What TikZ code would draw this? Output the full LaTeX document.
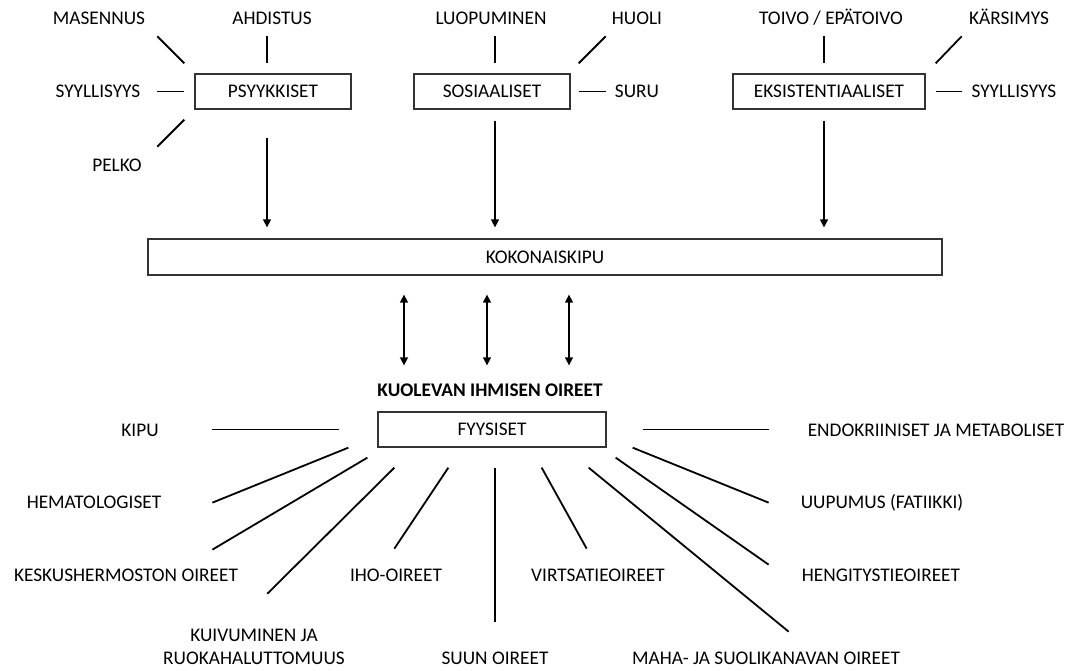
\documentclass[tikz,border=0pt]{standalone}
\usepackage{fontspec}
\setmainfont{Carlito}
\usepackage{tikz}
\usetikzlibrary{arrows.meta, positioning, calc}

\begin{document}
\begin{tikzpicture}[x=1pt, y=-1pt,
                box/.style={draw=black!80, line width=1.3pt, rectangle, minimum height=35pt, inner sep=0pt, font=\fontsize{19.3}{23}\selectfont, text height=12pt, text depth=0pt},
                varlabel/.style={inner sep=0pt, font=\fontsize{19.3}{23}\selectfont, text height=12pt, text depth=0pt},
                edge/.style={line width=1.8pt},
                pil/.style={line width=1.5pt, -{Triangle[length=8pt, width=8pt]}},
                dpil/.style={line width=1.5pt, {Triangle[length=8pt, width=8pt]}-{Triangle[length=8pt, width=8pt]}}
            ]
            \useasboundingbox (0,0) rectangle (1073,670);

            % Knoten oben
            \node[box, minimum width=156pt] (psy) at (273,91.5) {PSYYKKISET};
            \node[box, minimum width=156pt] (sos) at (492,91.5) {SOSIAALISET};
            \node[box, minimum width=192pt] (eks) at (829,91.5) {EKSISTENTIAALISET};
            \node[box, minimum width=794pt, minimum height=36pt] (koko) at (545,257) {KOKONAISKIPU};

            \node[varlabel] (masennus) at (99,18) {MASENNUS};
            \node[varlabel] (ahdistus) at (272,18) {AHDISTUS};
            \node[varlabel] (syyl1) at (98,91.5) {SYYLLISYYS};
            \node[varlabel] (pelko) at (117,165) {PELKO};
            \node[varlabel] (luopum) at (491,18) {LUOPUMINEN};
            \node[varlabel] (huoli) at (637,18) {HUOLI};
            \node[varlabel] (suru) at (637,91.5) {SURU};
            \node[varlabel] (toivo) at (831,18) {TOIVO / EPÄTOIVO};
            \node[varlabel] (karsimys) at (1009,18) {KÄRSIMYS};
            \node[varlabel] (syyl2) at (1014,91.5) {SYYLLISYYS};

            % Knoten unten
            \node[varlabel, font=\fontsize{19.3}{23}\selectfont\bfseries] (otsikko) at (490,390) {KUOLEVAN IHMISEN OIREET};
            \node[box, minimum width=228pt] (fyys) at (492,429.5) {FYYSISET};

            \node[varlabel] (kipu) at (140,430) {KIPU};
            \node[varlabel] (hema) at (94,502) {HEMATOLOGISET};
            \node[varlabel] (kesk) at (126,575) {KESKUSHERMOSTON OIREET};
            \node[inner sep=0pt, font=\fontsize{19.3}{23}\selectfont, align=center, anchor=north] (kuiv) at (254,629) {KUIVUMINEN JA\\RUOKAHALUTTOMUUS};
            \node[varlabel] (iho) at (396,575) {IHO-OIREET};
            \node[varlabel] (suun) at (495,658) {SUUN OIREET};
            \node[varlabel] (virtsa) at (598,575) {VIRTSATIEOIREET};
            \node[varlabel] (maha) at (766,658) {MAHA- JA SUOLIKANAVAN OIREET};
            \node[varlabel] (heng) at (881,575) {HENGITYSTIEOIREET};
            \node[varlabel] (uupumus) at (882,502) {UUPUMUS (FATIIKKI)};
            \node[varlabel] (endo) at (936,430) {ENDOKRIINISET JA METABOLISET};

            % Kanten oben
            \draw[edge] ([shift={(-37,-37)}]psy.north west) -- ([shift={(-10,-10)}]psy.north west);
            \draw[edge] ([shift={(-6,-37)}]psy.north) -- ([shift={(-6,-10)}]psy.north);
            \draw[edge] ([shift={(-37,0)}]psy.west) -- ([shift={(-10,0)}]psy.west);
            \draw[edge] ([shift={(-10,10)}]psy.south west) -- ([shift={(-37,37)}]psy.south west);

            \draw[edge] ([shift={(3,-37)}]sos.north) -- ([shift={(3,-10)}]sos.north);
            \draw[edge] ([shift={(35,-37)}]sos.north east) -- ([shift={(8,-10)}]sos.north east);
            \draw[edge] ([shift={(8,0)}]sos.east) -- ([shift={(35,0)}]sos.east);

            \draw[edge] ([shift={(-5,-37)}]eks.north) -- ([shift={(-5,-10)}]eks.north);
            \draw[edge] ([shift={(36,-37)}]eks.north east) -- ([shift={(10,-10)}]eks.north east);
            \draw[edge] ([shift={(10,0)}]eks.east) -- ([shift={(36,0)}]eks.east);

            % Pfeile
            \draw[pil, shorten <=28pt, shorten >=11pt] ([xshift=-6pt]psy.south) -- ([xshift=-6pt]psy.south |- koko.north);
            \draw[pil, shorten <=11pt, shorten >=11pt] ([xshift=3pt]sos.south) -- ([xshift=3pt]sos.south |- koko.north);
            \draw[pil, shorten <=11pt, shorten >=11pt] ([xshift=-5pt]eks.south) -- ([xshift=-5pt]eks.south |- koko.north);
            \foreach \dx in {-88,-5,77}
                \draw[dpil, shorten <=19pt, shorten >=46pt] ([xshift=\dx pt]fyys.north |- koko.south) -- ([xshift=\dx pt]fyys.north);

            % Kanten unten
            \draw[edge] ([shift={(-38,0)}]fyys.west) -- ([shift={(-165,0)}]fyys.west);
            \draw[edge] ([shift={(-29,0)}]fyys.south west) -- ([shift={(-165,55)}]fyys.south west);
            \draw[edge] ([shift={(-10,10)}]fyys.south west) -- ([shift={(-165,102)}]fyys.south west);
            \draw[edge] ([shift={(17,20)}]fyys.south west) -- ([shift={(-110,146)}]fyys.south west);
            \draw[edge] ([shift={(71,20)}]fyys.south west) -- ([shift={(17,101)}]fyys.south west);
            \draw[edge] ([shift={(3,20)}]fyys.south) -- ([shift={(3,174)}]fyys.south);
            \draw[edge] ([shift={(-65,20)}]fyys.south east) -- ([shift={(-20,101)}]fyys.south east);
            \draw[edge] ([shift={(-18,20)}]fyys.south east) -- ([shift={(182,184)}]fyys.south east);
            \draw[edge] ([shift={(9,10)}]fyys.south east) -- ([shift={(162,117)}]fyys.south east);
            \draw[edge] ([shift={(26,0)}]fyys.south east) -- ([shift={(162,55)}]fyys.south east);
            \draw[edge] ([shift={(36,0)}]fyys.east) -- ([shift={(162,0)}]fyys.east);

\end{tikzpicture}
\end{document}
